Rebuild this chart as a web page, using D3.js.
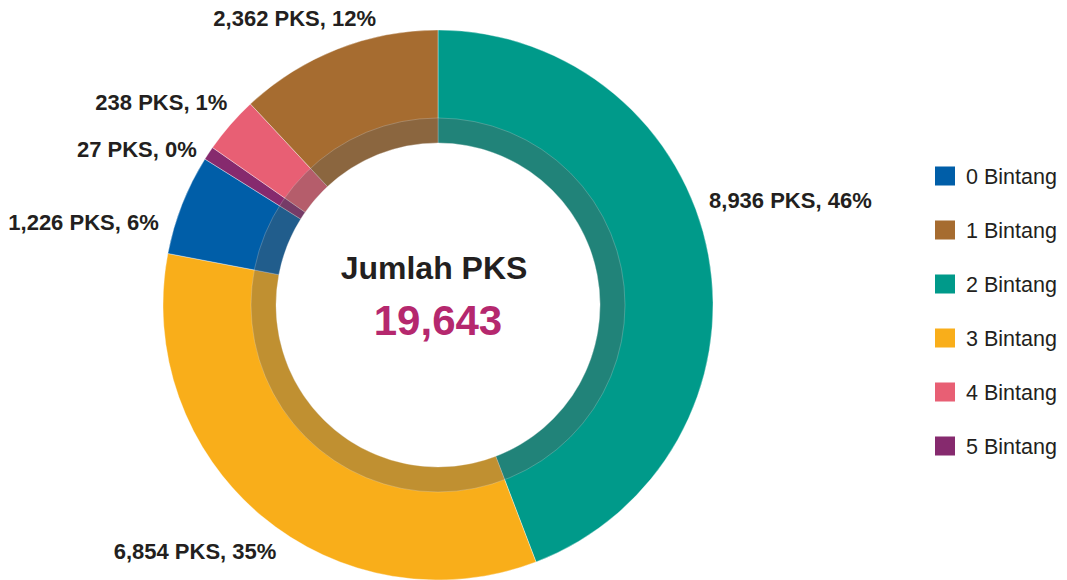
<!DOCTYPE html>
<html>
<head>
<meta charset="utf-8">
<script src="https://cdn.jsdelivr.net/npm/d3@7"></script>
<style>
  body { margin: 0; background: #fff; }
  text { font-family: "Liberation Sans", Arial, sans-serif; fill: #231f20; }
</style>
</head>
<body>
<div id="chart"></div>
<script>
// categories in legend order
var categories = ["0 Bintang", "1 Bintang", "2 Bintang", "3 Bintang", "4 Bintang", "5 Bintang"];
// number of PKS per category
var counts = [1226, 2362, 8936, 6854, 238, 27];
// percentages as printed on the labels
var percentLabels = [6, 12, 46, 35, 1, 0];
// share of the ring as drawn in the source (the small slices are drawn larger there)
var sliceShare = [5.9, 11.95, 44.2, 33.8, 3.35, 0.8];
// order of the slices, clockwise from 12 o'clock
var ringOrder = [2, 3, 0, 5, 4, 1];
var colors = ["#005ea8", "#a66c30", "#009a8a", "#f9ae1a", "#e85f74", "#862a6e"];

var width = 1067, height = 580;
var cx = 438, cy = 305;
var outerR = 275, innerR = 162, bandR = 187;

var svg = d3.select("#chart")
    .append("svg")
    .attr("width", width)
    .attr("height", height);

var g = svg.append("g")
    .attr("transform", "translate(" + cx + "," + cy + ")");

var pie = d3.pie()
    .sort(null)
    .value(function (i) { return sliceShare[i]; });

var arcs = pie(ringOrder);

var arc = d3.arc().innerRadius(innerR).outerRadius(outerR);

g.selectAll("path.slice")
    .data(arcs)
    .enter()
    .append("path")
    .attr("class", "slice")
    .attr("d", arc)
    .attr("fill", function (d) { return colors[d.data]; })
    .attr("stroke", "rgba(255,255,255,0.6)")
    .attr("stroke-width", 0.6);

// darker inner band over the slices
g.append("path")
    .attr("d", d3.arc().innerRadius(innerR).outerRadius(bandR).startAngle(0).endAngle(2 * Math.PI)())
    .attr("fill", "rgba(92,92,92,0.36)")
    .attr("stroke", "rgba(255,255,255,0.35)")
    .attr("stroke-width", 0.6);

// labels: placed around the ring at the slice mid angle, then nudged
var labelArc = d3.arc().innerRadius(300).outerRadius(300);
var nudge = {
    0: [0, 27, "end"],
    1: [48, -8, "end"],
    2: [-24, -51, "start"],
    3: [31, 16, "end"],
    4: [16, -6, "end"],
    5: [9, 10, "end"]
};
var fmt = d3.format(",");

g.selectAll("text.label")
    .data(arcs)
    .enter()
    .append("text")
    .attr("class", "label")
    .attr("x", function (d) { return labelArc.centroid(d)[0] + nudge[d.data][0]; })
    .attr("y", function (d) { return labelArc.centroid(d)[1] + nudge[d.data][1]; })
    .attr("dy", "0.36em")
    .attr("text-anchor", function (d) { return nudge[d.data][2]; })
    .style("font-size", "22px")
    .style("font-weight", "bold")
    .text(function (d) {
        return fmt(counts[d.data]) + " PKS, " + percentLabels[d.data] + "%";
    });

// centre title and total
g.append("text")
    .attr("x", -4)
    .attr("y", -26)
    .attr("text-anchor", "middle")
    .style("font-size", "32px")
    .style("font-weight", "bold")
    .text("Jumlah PKS");

g.append("text")
    .attr("x", 0)
    .attr("y", 30)
    .attr("text-anchor", "middle")
    .style("font-size", "42px")
    .style("font-weight", "bold")
    .style("fill", "#b5286e")
    .text(fmt(d3.sum(counts)));

// legend
var legendY = d3.scalePoint()
    .domain(categories)
    .range([176, 446]);

var legend = svg.append("g")
    .selectAll("g")
    .data(categories)
    .enter()
    .append("g")
    .attr("transform", function (d) { return "translate(935," + legendY(d) + ")"; });

legend.append("rect")
    .attr("x", 0)
    .attr("y", -9.5)
    .attr("width", 20)
    .attr("height", 19)
    .attr("fill", function (d, i) { return colors[i]; });

legend.append("text")
    .attr("x", 31)
    .attr("y", 0)
    .attr("dy", "0.35em")
    .style("font-size", "21.5px")
    .text(function (d) { return d; });
</script>
</body>
</html>
